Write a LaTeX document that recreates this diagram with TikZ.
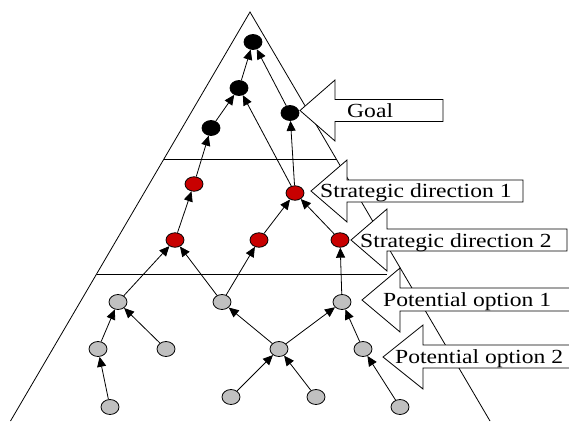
\documentclass[tikz,border=0pt]{standalone}
\usepackage{fontspec}
\setmainfont[FakeStretch=1.18]{Liberation Serif}
\usetikzlibrary{shapes.geometric,arrows.meta}

\definecolor{dirred}{RGB}{200,0,0}
\definecolor{optgray}{RGB}{192,192,192}

\tikzset{
  dot/.style={ellipse, draw, line width=0.8pt, minimum width=18pt,
              minimum height=15pt, inner sep=0pt},
  goalnode/.style={dot, fill=black},
  dirnode/.style={dot, fill=dirred, minimum height=14.5pt},
  optnode/.style={dot, fill=optgray},
  link/.style={-{Triangle[length=10pt,width=9pt]}, line width=0.8pt},
  frame/.style={line width=0.8pt},
  callout/.style={draw, fill=white, line width=0.8pt},
  openhead/.style={draw, line width=0.8pt},
  tag/.style={anchor=base west, inner sep=0pt, font=\fontsize{20}{24}\selectfont}
}

\begin{document}
\begin{tikzpicture}[x=1pt, y=-1pt]
\useasboundingbox (0,0) rectangle (569,421);

% pyramid and level separators
\coordinate (apex) at (250,12);
\coordinate (baseL) at (10.5,421);
\coordinate (baseR) at (490,421);
\draw[frame] (baseL) -- (apex) -- (baseR);
\draw[frame] (164,159) -- (336,159);
\draw[frame] (97,274) -- (387,274);

% goal level
\node[goalnode] (b1) at (253,42) {};
\node[goalnode] (b2) at (239,88) {};
\node[goalnode] (b3) at (290,113) {};
\node[goalnode] (b4) at (211,128) {};

% strategic directions
\node[dirnode] (r1) at (194,184) {};
\node[dirnode] (r2) at (295,193) {};
\node[dirnode] (r3) at (175,240) {};
\node[dirnode] (r4) at (259,240) {};
\node[dirnode] (r5) at (340,240) {};

% potential options
\node[optnode] (g1) at (118,302) {};
\node[optnode] (g2) at (222,302) {};
\node[optnode] (g8) at (342,302) {};
\node[optnode] (g3) at (98,349) {};
\node[optnode] (g4) at (166,349) {};
\node[optnode] (g5) at (279,349) {};
\node[optnode] (g9) at (363,349) {};
\node[optnode] (g6) at (110,407) {};
\node[optnode] (g7) at (231,397) {};
\node[optnode] (g10) at (316,397) {};
\node[optnode] (g11) at (400,407) {};

% links towards the goal
\draw[link] (b2) -- (b1);
\draw[link] (b3) -- (b1);
\draw[link] (b4) -- (b2);
\draw[link] (r1) -- (b4);
\draw[link] (r2) -- (b2);
\draw[link] (r2) -- (b3);
\draw[link] (r3) -- (r1);
\draw[link] (r4) -- (r2);
\draw[link] (r5) -- (r2);
\draw[link] (g1) -- (r3);
\draw[link] (g2) -- (r3);
\draw[link] (g2) -- (r4);
\draw[link] (g8) -- (r5);
\draw[link] (g3) -- (g1);
\draw[link] (g4) -- (g1);
\draw[link] (g6) -- (g3);
\draw[link] (g5) -- (g2);
\draw[link] (g5) -- (g8);
\draw[link] (g7) -- (g5);
\draw[link] (g10) -- (g5);
\draw[link] (g9) -- (g8);
\draw[link] (g11) -- (g9);

% level callouts
\draw[callout] (300,110.5) -- (335,80) -- (335,99.5) -- (443,99.5)
  -- (443,121.5) -- (335,121.5) -- (335,141) -- cycle;
\node[tag] (goal) at (347,117.5) {Goal};

\draw[callout] (311,191) -- (347,160) -- (347,180) -- (523,180)
  -- (523,202) -- (347,202) -- (347,222) -- cycle;
\node[tag] (sd1) at (320,197.5) {Strategic direction 1};

\draw[callout] (351,240) -- (387,209) -- (387,229) -- (567,229)
  -- (567,251) -- (387,251) -- (387,271) -- cycle;
\node[tag] (sd2) at (360,247) {Strategic direction 2};

\fill[white] (400,288) rectangle (580,311);
\draw[openhead] (362,300) -- (400,268) -- (400,288) -- (580,288)
  -- (580,311) -- (400,311) -- (400,332) -- cycle;
\node[tag] (po1) at (383,306.5) {Potential option 1};

\fill[white] (423,345) rectangle (580,368);
\draw[openhead] (383,357) -- (423,325) -- (423,345) -- (580,345)
  -- (580,368) -- (423,368) -- (423,389) -- cycle;
\node[tag] (po2) at (395,363) {Potential option 2};
\end{tikzpicture}
\end{document}
